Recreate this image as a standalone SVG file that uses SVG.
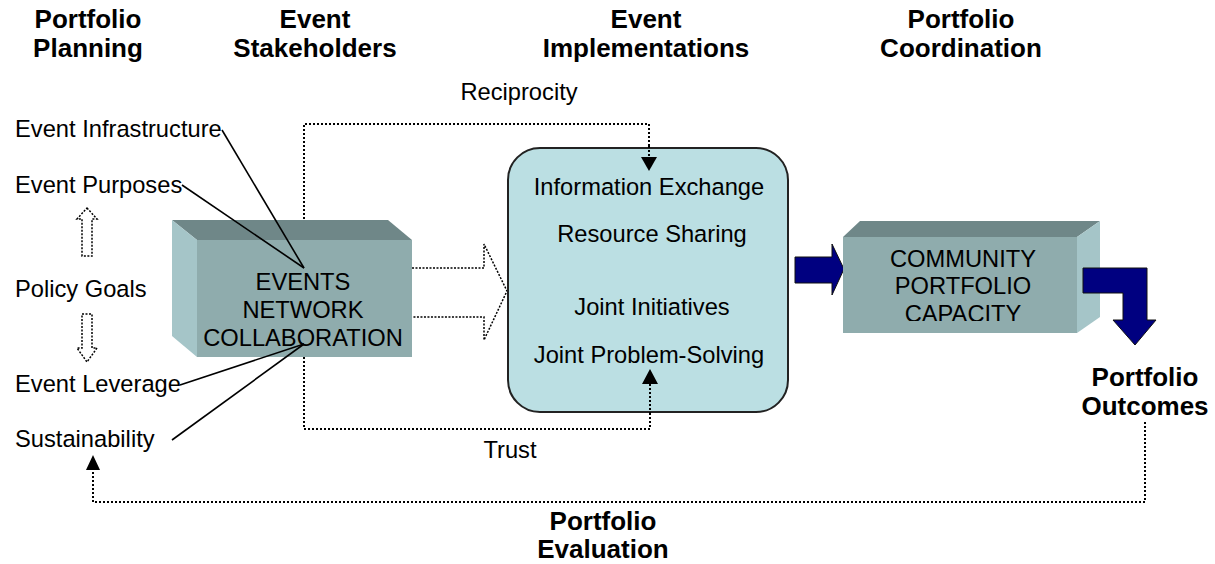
<svg xmlns="http://www.w3.org/2000/svg" width="1215" height="564" viewBox="0 0 1215 564">
<style>
text{font-family:"Liberation Sans",Arial,sans-serif;fill:#000}
.r{font-size:23.7px}
.b{font-size:26px;font-weight:bold}
.c{text-anchor:middle}
.dot{fill:none;stroke:#000;stroke-width:2;stroke-dasharray:2 2}
.thin{fill:none;stroke:#000;stroke-width:1.5;stroke-dasharray:2 1.5}
.ln{stroke:#000;stroke-width:1.6;fill:none}
.front{fill:#8FACAD}
.top{fill:#6F8788}
.side{fill:#A5C5C8}
.navy{fill:#000080;stroke:#111;stroke-width:1}
.head{fill:#000}
</style>
<defs>
<clipPath id="clipL"><rect x="190" y="230" width="230" height="116"/></clipPath>
<clipPath id="clipR"><rect x="840" y="230" width="240" height="91"/></clipPath>
</defs>
<rect width="1215" height="564" fill="#fff"/>

<g id="headings">
<text class="b c" x="88" y="28">Portfolio</text>
<text class="b c" x="88" y="57">Planning</text>
<text class="b c" x="315" y="28">Event</text>
<text class="b c" x="315" y="57">Stakeholders</text>
<text class="b c" x="646" y="28">Event</text>
<text class="b c" x="646" y="57">Implementations</text>
<text class="b c" x="961" y="28">Portfolio</text>
<text class="b c" x="961" y="57">Coordination</text>
</g>

<g id="connectors">
<path class="dot" d="M649,158 V124 H304 V429 H650 V384"/>
<path class="dot" d="M1145,422 V502 H93 V470"/>
<path class="thin" d="M87,208 L97,219 L92,219 L92,256 L82,256 L82,219 L77,219 Z"/>
<path class="thin" d="M82,314 L92,314 L92,348 L97,348 L87,362 L77,348 L82,348 Z"/>
</g>

<g id="planning-labels">
<text class="r" x="15" y="137">Event Infrastructure</text>
<text class="r" x="15" y="193">Event Purposes</text>
<text class="r" x="15" y="297">Policy Goals</text>
<text class="r" x="15" y="392">Event Leverage</text>
<text class="r" x="15" y="447">Sustainability</text>
</g>

<g id="events-network">
<polygon class="top" points="172,220 388,220 412,240 197,240"/>
<polygon class="side" points="172,220 197,240 197,357 172,336"/>
<rect class="front" x="197" y="240" width="215" height="117"/>
<g clip-path="url(#clipL)">
<text class="r c" x="303" y="290">EVENTS</text>
<text class="r c" x="303" y="318">NETWORK</text>
<text class="r c" x="303" y="346">COLLABORATION</text>
</g>
</g>

<g id="stakeholder-lines">
<line class="ln" x1="222" y1="130" x2="304" y2="268"/>
<line class="ln" x1="182" y1="185" x2="304" y2="268"/>
<line class="ln" x1="180" y1="385" x2="304" y2="344"/>
<line class="ln" x1="172" y1="440" x2="304" y2="344"/>
</g>

<g id="hollow-arrow">
<path class="thin" d="M412,268 H484 V244 L507,291 L484,340 V317 H412"/>
</g>

<g id="implementations">
<rect x="508" y="148" width="280" height="264" rx="32" ry="32" fill="#BBDFE3" stroke="#222" stroke-width="2"/>
<text class="r c" x="649" y="195">Information Exchange</text>
<text class="r c" x="652" y="242">Resource Sharing</text>
<text class="r c" x="652" y="315">Joint Initiatives</text>
<text class="r c" x="649" y="363">Joint Problem-Solving</text>
</g>

<g id="connector-heads">
<path class="dot" d="M649,146 V158"/>
<path class="dot" d="M650,414 V384"/>
<polygon class="head" points="641,157 657,157 649,171"/>
<polygon class="head" points="642,384 658,384 650,369"/>
<polygon class="head" points="86,470 100,470 93,455"/>
</g>

<g id="reciprocity-trust">
<text class="r c" x="519" y="100">Reciprocity</text>
<text class="r c" x="510" y="458">Trust</text>
</g>

<g id="arrow-in">
<polygon class="navy" points="795,257 832,257 832,244 844,269 832,295 832,283 795,283"/>
</g>

<g id="community-capacity">
<polygon class="top" points="843,237 860,221 1100,221 1077,237"/>
<polygon class="side" points="1077,237 1100,221 1100,317 1077,333"/>
<rect class="front" x="843" y="237" width="234" height="96"/>
<g clip-path="url(#clipR)">
<text class="r c" x="963" y="267">COMMUNITY</text>
<text class="r c" x="963" y="294">PORTFOLIO</text>
<text class="r c" x="963" y="322">CAPACITY</text>
</g>
</g>

<g id="arrow-out">
<polygon class="navy" points="1083,268 1147,268 1147,320 1156,320 1135,345 1113,320 1123,320 1123,293 1083,293"/>
</g>

<g id="outcomes">
<text class="b c" x="1145" y="386">Portfolio</text>
<text class="b c" x="1145" y="415">Outcomes</text>
</g>

<g id="evaluation">
<text class="b c" x="603" y="530">Portfolio</text>
<text class="b c" x="603" y="558">Evaluation</text>
</g>
</svg>
